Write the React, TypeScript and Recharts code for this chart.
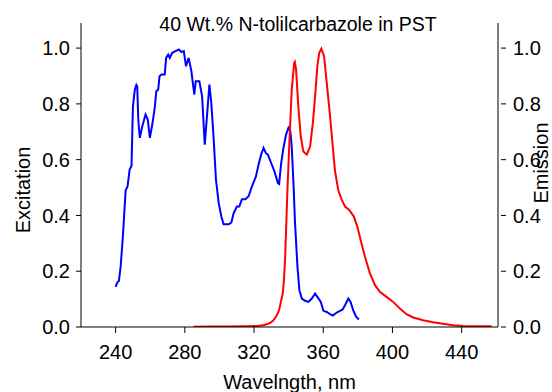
import React from 'react';
import { LineChart, Line, XAxis, YAxis, Label } from 'recharts';

const excitationWl = [240.0, 241.0, 241.9, 242.9, 244.2, 245.8, 246.9, 248.1, 249.2, 250.0, 251.1, 252.0, 252.5, 253.1, 254.0, 255.4, 257.3, 258.6, 259.8, 261.2, 262.7, 263.5, 264.6, 265.4, 266.5, 268.4, 269.2, 270.4, 271.3, 272.7, 274.6, 276.5, 278.0, 279.4, 280.7, 282.2, 283.8, 284.6, 285.5, 286.3, 288.4, 290.0, 291.5, 292.8, 294.2, 295.3, 296.7, 298.0, 299.6, 301.1, 302.4, 305.3, 306.9, 308.2, 310.1, 311.5, 313.0, 314.9, 316.8, 318.8, 321.1, 322.6, 324.1, 325.5, 326.8, 328.0, 329.9, 331.8, 333.8, 334.5, 335.7, 337.0, 338.5, 339.9, 341.0, 341.8, 342.8, 343.7, 345.1, 346.2, 347.6, 349.5, 351.4, 353.4, 355.3, 356.6, 358.6, 360.1, 362.0, 363.9, 365.5, 367.8, 369.7, 371.2, 372.6, 374.5, 375.8, 377.3, 378.9, 380.6];
const excitationVal = [0.144, 0.160, 0.165, 0.216, 0.324, 0.49, 0.504, 0.564, 0.578, 0.79, 0.851, 0.868, 0.863, 0.743, 0.678, 0.719, 0.762, 0.743, 0.678, 0.726, 0.79, 0.845, 0.851, 0.899, 0.905, 0.905, 0.965, 0.977, 0.965, 0.983, 0.989, 0.995, 0.986, 0.989, 0.935, 0.965, 0.917, 0.876, 0.833, 0.881, 0.881, 0.827, 0.654, 0.755, 0.869, 0.804, 0.672, 0.528, 0.444, 0.396, 0.368, 0.368, 0.374, 0.408, 0.432, 0.432, 0.458, 0.458, 0.468, 0.504, 0.54, 0.582, 0.618, 0.642, 0.624, 0.618, 0.588, 0.558, 0.516, 0.513, 0.588, 0.642, 0.69, 0.714, 0.702, 0.646, 0.516, 0.372, 0.216, 0.132, 0.102, 0.094, 0.09, 0.102, 0.12, 0.108, 0.09, 0.058, 0.054, 0.046, 0.041, 0.052, 0.058, 0.063, 0.078, 0.102, 0.09, 0.06, 0.038, 0.027];

const emissionWl = [285, 295, 305, 315, 322, 326, 329, 331, 333, 334.5, 335.5, 336.6, 337.3, 338.0, 339.3, 340.5, 341.8, 343.2, 343.6, 344.3, 345.6, 347.0, 348.5, 350.5, 352.4, 354.0, 355.3, 356.6, 357.7, 358.9, 360.5, 362.0, 363.9, 365.5, 366.8, 368.7, 370.7, 372.6, 375.0, 377.7, 379.7, 381.6, 384.1, 387.0, 389.9, 392.7, 396.6, 400.4, 404.3, 408.1, 412.0, 417.7, 423.5, 429.2, 435.0, 440.8, 450, 457.3];
const emissionVal = [0.001, 0.002, 0.002, 0.003, 0.004, 0.007, 0.014, 0.022, 0.04, 0.06, 0.09, 0.12, 0.17, 0.252, 0.49, 0.672, 0.851, 0.947, 0.951, 0.923, 0.791, 0.683, 0.629, 0.618, 0.647, 0.731, 0.827, 0.935, 0.983, 0.998, 0.971, 0.876, 0.76, 0.647, 0.56, 0.49, 0.456, 0.432, 0.42, 0.396, 0.36, 0.312, 0.252, 0.192, 0.15, 0.126, 0.108, 0.09, 0.066, 0.046, 0.034, 0.024, 0.017, 0.012, 0.006, 0.004, 0.003, 0.003];

const xTicks = [240, 280, 320, 360, 400, 440];
const yTicks = [0, 0.2, 0.4, 0.6, 0.8, 1.0];

const titleText = '40 Wt.% N-tolilcarbazole in PST';
const xLabel = 'Wavelngth, nm';
const leftLabel = 'Excitation';
const rightLabel = 'Emission';

const excitationData = excitationWl.map((w, i) => ({ wl: w, v: excitationVal[i] }));
const emissionData = emissionWl.map((w, i) => ({ wl: w, v: emissionVal[i] }));

const FONT = '"Liberation Sans", Arial, sans-serif';

const RightTick = (props: any) => {
  const { x, y, payload } = props;
  return (
    <g>
      <line x1={x} y1={y} x2={x - 5} y2={y} stroke="#000" strokeWidth={1} />
      <text x={x + 7} y={y} dy="0.355em" textAnchor="start" fontSize={20} fontFamily={FONT} fill="#000">
        {Number(payload.value).toFixed(1)}
      </text>
    </g>
  );
};

export default function App() {
  return (
    <div style={{ position: 'fixed', left: 0, top: 0, width: 552, height: 392, background: '#fff' }}>
      <div
        style={{
          position: 'absolute',
          left: 0,
          width: 596,
          top: 14,
          textAlign: 'center',
          fontFamily: FONT,
          fontSize: 19.5,
          lineHeight: '20px',
          color: '#000',
          whiteSpace: 'nowrap',
        }}
      >
        {titleText}
      </div>
      <LineChart width={552} height={392} margin={{ top: 23, right: 0, bottom: 0, left: 0 }}>
        <XAxis
          dataKey="wl"
          type="number"
          domain={[220, 461]}
          ticks={xTicks}
          allowDataOverflow
          stroke="#000"
          tickSize={6}
          tickMargin={12}
          height={65}
          tick={{ fill: '#000', fontSize: 20, fontFamily: FONT }}
        >
          <Label value={xLabel} position="center" dy={22} fill="#000" fontSize={20} fontFamily={FONT} />
        </XAxis>
        <YAxis
          yAxisId="left"
          orientation="left"
          domain={[0, 1.09]}
          ticks={yTicks}
          allowDataOverflow
          width={81}
          stroke="#000"
          tickSize={5}
          tickMargin={6}
          tickFormatter={(v: number) => v.toFixed(1)}
          tick={{ fill: '#000', fontSize: 20, fontFamily: FONT }}
        >
          <Label value={leftLabel} angle={-90} position="center" dx={-18} dy={15} fill="#000" fontSize={20} fontFamily={FONT} />
        </YAxis>
        <YAxis
          yAxisId="right"
          orientation="right"
          domain={[0, 1.09]}
          ticks={yTicks}
          allowDataOverflow
          width={54}
          stroke="#000"
          tickLine={false}
          tick={<RightTick />}
        >
          <Label value={rightLabel} angle={-90} position="center" dx={16} dy={-12} fill="#000" fontSize={20} fontFamily={FONT} />
        </YAxis>
        <Line
          yAxisId="left"
          data={excitationData}
          dataKey="v"
          type="linear"
          stroke="#0000ff"
          strokeWidth={2}
          dot={false}
          isAnimationActive={false}
        />
        <Line
          yAxisId="right"
          data={emissionData}
          dataKey="v"
          type="linear"
          stroke="#ff0000"
          strokeWidth={2}
          dot={false}
          isAnimationActive={false}
        />
      </LineChart>
    </div>
  );
}
